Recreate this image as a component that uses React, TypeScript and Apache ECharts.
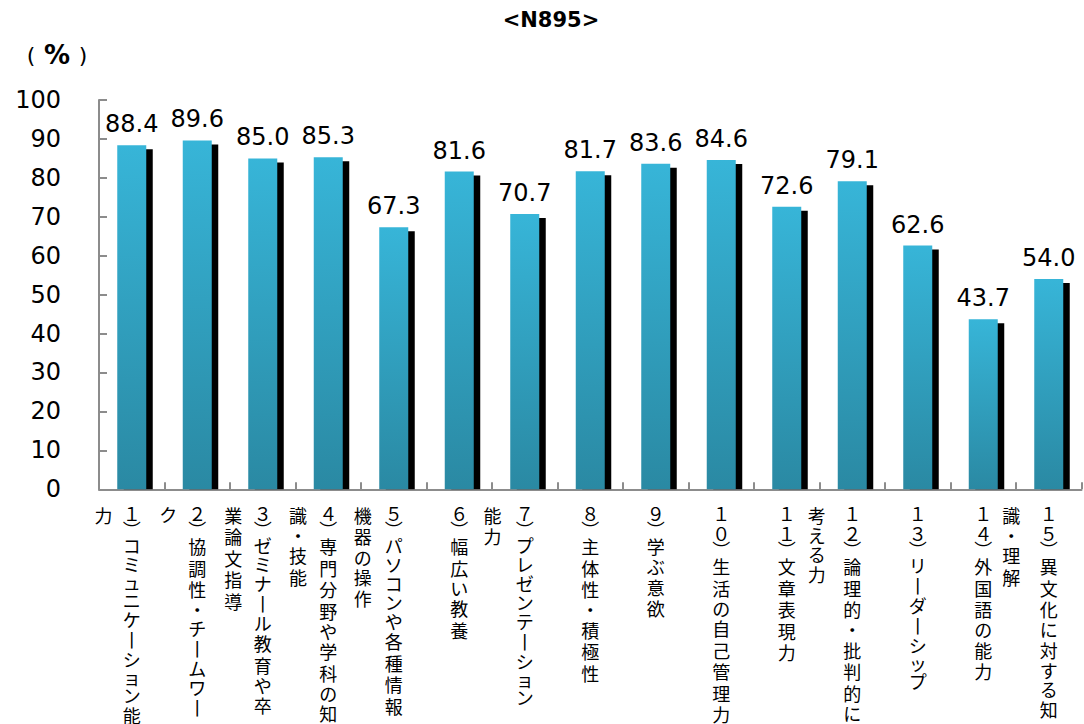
import React, { useEffect, useRef } from "react";
import * as echarts from "echarts";

const categories = [
  "１)コミュニケーション能力",
  "２)協調性・チームワーク",
  "３)ゼミナール教育や卒業論文指導",
  "４)専門分野や学科の知識・技能",
  "５)パソコンや各種情報機器の操作",
  "６)幅広い教養",
  "７)プレゼンテーション能力",
  "８)主体性・積極性",
  "９)学ぶ意欲",
  "１０)生活の自己管理力",
  "１１)文章表現力",
  "１２)論理的・批判的に考える力",
  "１３)リーダーシップ",
  "１４)外国語の能力",
  "１５)異文化に対する知識・理解",
];
const labelColumn1 = [
  "１)コミュニケーション能",
  "２)協調性・チームワー",
  "３)ゼミナール教育や卒",
  "４)専門分野や学科の知",
  "５)パソコンや各種情報",
  "６)幅広い教養",
  "７)プレゼンテーション",
  "８)主体性・積極性",
  "９)学ぶ意欲",
  "１０)生活の自己管理力",
  "１１)文章表現力",
  "１２)論理的・批判的に",
  "１３)リーダーシップ",
  "１４)外国語の能力",
  "１５)異文化に対する知",
];
const labelColumn2 = [
  "力", "ク", "業論文指導", "識・技能", "機器の操作", "", "能力", "", "", "", "", "考える力", "", "", "識・理解",
];
const values = [88.4, 89.6, 85.0, 85.3, 67.3, 81.6, 70.7, 81.7, 83.6, 84.6, 72.6, 79.1, 62.6, 43.7, 54.0];
const yTicks = { min: 0, max: 100, interval: 10 };
const titleText = "<N895>";

const CJK = "'Noto Sans CJK JP', sans-serif";
const NUM = "'DejaVu Sans', sans-serif";

const classOf = (c: string) => {
  if (/[０-９0-9]/.test(c)) return "cd";
  if (c === "︶") return "cp";
  if (c === "・") return "cm";
  if (c === "丨") return "cl";
  if (/[ァィゥェォッャュョぁぃぅぇぉっゃゅょ]/.test(c)) return "cs";
  if (/[\u3040-\u30ff]/.test(c)) return "ch";
  return "ck";
};

const toVertical = (s: string, pad: boolean) =>
  Array.from(s)
    .map((ch) => {
      const c = ch === "ー" ? "丨" : ch === ")" ? "︶" : ch;
      return `{${classOf(c)}|${c}}` + (pad ? "{pad|　}" : "");
    })
    .join("\n");

const base = { fontSize: 18, fontFamily: CJK, color: "#000", width: 28, align: "center" as const };
const rich = {
  ck: { ...base, lineHeight: 21.5 },
  ch: { ...base, lineHeight: 19 },
  cs: { ...base, lineHeight: 17 },
  cd: { ...base, lineHeight: 20 },
  cp: { ...base, lineHeight: 12 },
  cm: { ...base, lineHeight: 19 },
  cl: { ...base, lineHeight: 21 },
  pad: { fontSize: 10, lineHeight: 10, width: 56, fontFamily: CJK },
};

export default function App() {
  const ref = useRef<HTMLDivElement>(null);
  useEffect(() => {
    if (!ref.current) return;
    const chart = echarts.init(ref.current, null, { renderer: "svg" });
    const gridBox = { left: 99, top: 100, width: 982.5, height: 390 };
    const axisGray = "#8c8c8c";
    chart.setOption({
      animation: false,
      backgroundColor: "#fff",
      grid: [gridBox, gridBox],
      xAxis: [
        {
          type: "category",
          gridIndex: 0,
          data: categories,
          axisLine: { show: true, lineStyle: { color: axisGray, width: 2 } },
          axisTick: { show: true, inside: true, length: 7, lineStyle: { color: axisGray, width: 2 } },
          axisLabel: {
            interval: 0,
            margin: 14,
            formatter: (_v: string, i: number) => toVertical(labelColumn1[i], false),
            rich,
          },
        },
        {
          type: "category",
          gridIndex: 1,
          data: categories,
          axisLine: { show: false },
          axisTick: { show: false },
          axisLabel: {
            interval: 0,
            margin: 14,
            formatter: (_v: string, i: number) => toVertical(labelColumn2[i], true),
            rich,
          },
        },
      ],
      yAxis: [
        {
          type: "value",
          gridIndex: 0,
          min: yTicks.min,
          max: yTicks.max,
          interval: yTicks.interval,
          splitLine: { show: false },
          axisLine: { show: true, lineStyle: { color: axisGray, width: 2 } },
          axisTick: { show: true, inside: true, length: 8, lineStyle: { color: axisGray, width: 2 } },
          axisLabel: { margin: 38, fontSize: 24, color: "#000", fontFamily: NUM },
        },
        { type: "value", gridIndex: 1, min: yTicks.min, max: yTicks.max, show: false },
      ],
      series: [
        {
          type: "custom",
          xAxisIndex: 0,
          yAxisIndex: 0,
          z: 2,
          data: values.map((v, i) => [i, v]),
          encode: { x: 0, y: 1 },
          renderItem: (_p: any, api: any) => {
            const top = api.coord([api.value(0), api.value(1)]);
            const bottom = api.coord([api.value(0), 0]);
            const w = 29;
            return {
              type: "rect",
              shape: { x: top[0] - w / 2 + 6.5, y: top[1] + 4, width: w, height: bottom[1] - top[1] - 4 },
              style: { fill: "#000" },
            };
          },
        },
        {
          type: "bar",
          xAxisIndex: 0,
          yAxisIndex: 0,
          z: 3,
          barWidth: 29,
          data: values,
          itemStyle: {
            color: new echarts.graphic.LinearGradient(0, 0, 0, 1, [
              { offset: 0, color: "#37B5D8" },
              { offset: 1, color: "#2A89A3" },
            ]),
          },
          label: {
            show: true,
            position: "top",
            distance: 9,
            fontSize: 24,
            fontFamily: NUM,
            color: "#000",
            formatter: (p: any) => Number(p.value).toFixed(1),
          },
        },
      ],
      graphic: [
        {
          type: "text",
          x: 551,
          y: 20,
          style: {
            text: titleText,
            fontSize: 21,
            fontWeight: "bold",
            fontFamily: NUM,
            fill: "#000",
            align: "center",
            verticalAlign: "middle",
          },
        },
        {
          type: "text",
          x: 20,
          y: 55,
          style: {
            text: "{p|(}{b|%}{p|)}",
            align: "left",
            verticalAlign: "middle",
            rich: {
              p: { fontSize: 22, fontFamily: NUM, fill: "#000", width: 22, align: "center" },
              b: { fontSize: 26, fontWeight: "bold", fontFamily: NUM, fill: "#000", width: 30, align: "center" },
            },
          },
        },
      ],
    });
    return () => chart.dispose();
  }, []);
  return <div ref={ref} style={{ position: "fixed", left: 0, top: 0, width: 1084, height: 724 }} />;
}
